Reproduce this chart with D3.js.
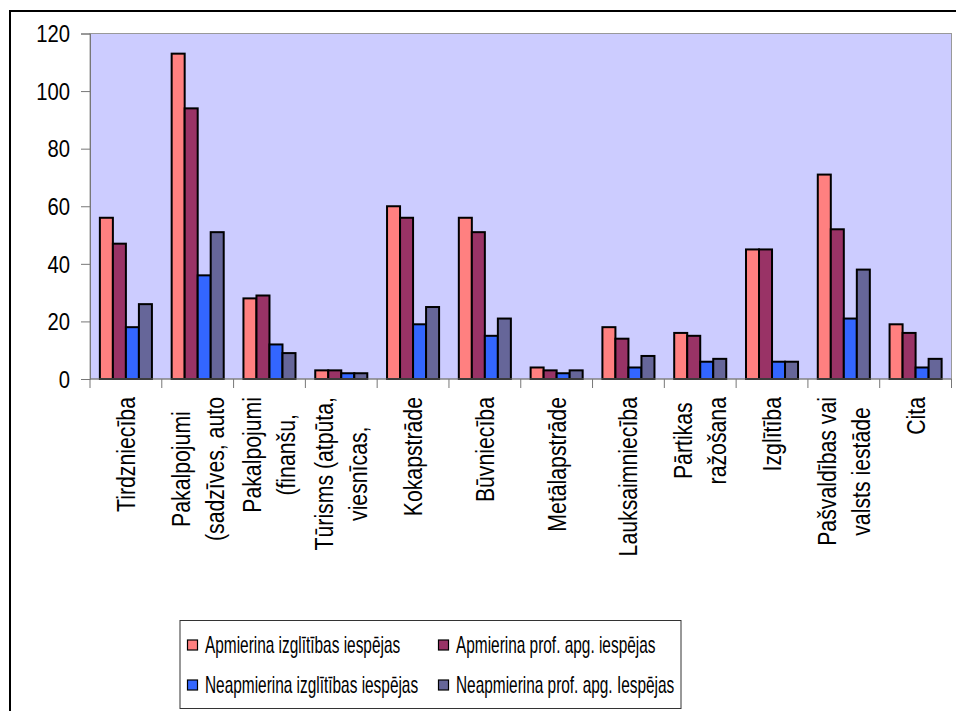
<!DOCTYPE html>
<meta charset="utf-8">
<style>
  body { margin: 0; background: #fff; }
  text { font-family: "Liberation Sans", Arial, sans-serif; fill: #000; }
  .bar { stroke: #000; stroke-width: 2px; }
</style>
<body>
<script src="https://d3js.org/d3.v7.min.js"></script>
<div id="chart"></div>
<script>

// categories, each split into the lines shown under the axis
var categories = [
  ["Tirdzniecība"],
  ["Pakalpojumi", "(sadzīves, auto"],
  ["Pakalpojumi", "(finanšu,"],
  ["Tūrisms (atpūta,", "viesnīcas,"],
  ["Kokapstrāde"],
  ["Būvniecība"],
  ["Metālapstrāde"],
  ["Lauksaimniecība"],
  ["Pārtikas", "ražošana"],
  ["Izglītība"],
  ["Pašvaldības vai", "valsts iestāde"],
  ["Cita"]
];

var seriesNames = [
  "Apmierina izglītības iespējas",
  "Apmierina prof. apg. iespējas",
  "Neapmierina izglītības iespējas",
  "Neapmierina prof. apg. Iespējas"
];
var seriesColors = ["#ff8080", "#993366", "#3366ff", "#666699"];

var apmIzgl   = [56, 113, 28, 3, 60, 56, 4, 18, 16, 45, 71, 19];
var apmProf   = [47, 94, 29, 3, 56, 51, 3, 14, 15, 45, 52, 16];
var neapIzgl  = [18, 36, 12, 2, 19, 15, 2, 4, 6, 6, 21, 4];
var neapProf  = [26, 51, 9, 2, 25, 21, 3, 8, 7, 6, 38, 7];

var yTicks = [0, 20, 40, 60, 80, 100, 120];

var series = [apmIzgl, apmProf, neapIzgl, neapProf];

var W = 956, H = 711;
var plot = {left: 90, top: 33.5, right: 951.5, bottom: 379};

// the original uses a narrow face; squeeze the text horizontally
var narrowAxis = 0.88, narrowLabel = 0.85, narrowLegend = 0.67;

var svg = d3.select("#chart").append("svg")
    .attr("width", W)
    .attr("height", H);

// outer frame (runs off the right and bottom edge)
svg.append("rect")
    .attr("x", 10).attr("y", 11)
    .attr("width", 960).attr("height", 720)
    .attr("fill", "#fff")
    .attr("stroke", "#000")
    .attr("stroke-width", 2);

var x0 = d3.scaleBand()
    .domain(d3.range(categories.length))
    .range([plot.left, plot.right])
    .paddingInner(0.275)
    .paddingOuter(0.1375);

var x1 = d3.scaleBand()
    .domain(d3.range(series.length))
    .range([0, x0.bandwidth()]);

var y = d3.scaleLinear()
    .domain([0, 120])
    .range([plot.bottom, plot.top]);

// plot background
svg.append("rect")
    .attr("x", plot.left).attr("y", plot.top)
    .attr("width", plot.right - plot.left)
    .attr("height", plot.bottom - plot.top)
    .attr("fill", "#ccccff")
    .attr("stroke", "#999")
    .attr("stroke-width", 1);

// bars
var groups = svg.append("g").selectAll("g")
    .data(categories)
    .enter().append("g")
    .attr("transform", function(d, i) { return "translate(" + x0(i) + ",0)"; });

groups.selectAll("rect")
    .data(function(d, i) { return series.map(function(s, k) { return {k: k, v: s[i]}; }); })
    .enter().append("rect")
    .attr("class", "bar")
    .attr("x", function(d) { return x1(d.k); })
    .attr("width", x1.bandwidth())
    .attr("y", function(d) { return y(d.v); })
    .attr("height", function(d) { return y(0) - y(d.v); })
    .attr("fill", function(d) { return seriesColors[d.k]; });

// y axis
var gy = svg.append("g")
    .attr("transform", "translate(" + plot.left + ",0)")
    .call(d3.axisLeft(y).tickValues(yTicks).tickSize(9).tickPadding(11));
gy.select(".domain").attr("stroke", "#777");
gy.selectAll(".tick line").attr("stroke", "#777");
gy.selectAll(".tick text")
    .attr("font-size", 23)
    .attr("dy", "0.36em")
    .attr("x", -20 / narrowAxis)
    .attr("transform", "scale(" + narrowAxis + ",1)")
    .attr("font-family", null);

// x axis: ticks at category boundaries
var step = x0.step();
var boundaries = d3.range(categories.length + 1).map(function(i) { return plot.left + i * step; });
svg.append("line")
    .attr("x1", plot.left).attr("x2", plot.right)
    .attr("y1", plot.bottom).attr("y2", plot.bottom)
    .attr("stroke", "#777");
svg.append("g").selectAll("line")
    .data(boundaries)
    .enter().append("line")
    .attr("x1", function(d) { return d; })
    .attr("x2", function(d) { return d; })
    .attr("y1", plot.bottom)
    .attr("y2", plot.bottom + 9)
    .attr("stroke", "#777");

// category labels, rotated, top aligned, lines centered
var lineGap = 34;
var labelTop = 397;
var labels = svg.append("g").selectAll("g")
    .data(categories)
    .enter().append("g")
    .attr("transform", function(d, i) {
      return "translate(" + (x0(i) + x0.bandwidth() / 2) + ",0) rotate(-90)";
    });

labels.each(function(lines) {
  var g = d3.select(this);
  var texts = lines.map(function(line) {
    return g.append("text")
      .attr("font-size", 25)
      .attr("text-anchor", "middle")
      .text(line);
  });
  var maxLen = narrowLabel * d3.max(texts, function(t) { return t.node().getComputedTextLength(); });
  texts.forEach(function(t, j) {
    var off = 9 + (j - (lines.length - 1) / 2) * lineGap;
    t.attr("transform", "translate(" + (-(labelTop + maxLen / 2)) + "," + off + ") scale(" + narrowLabel + ",1)");
  });
});

// legend
var legend = svg.append("g");
legend.append("rect")
    .attr("x", 180).attr("y", 620.5)
    .attr("width", 501).attr("height", 88)
    .attr("fill", "#fff")
    .attr("stroke", "#333")
    .attr("stroke-width", 1);

var legendItems = legend.selectAll("g")
    .data(seriesNames)
    .enter().append("g")
    .attr("transform", function(d, i) {
      return "translate(" + (i % 2 === 0 ? 187 : 438) + "," + (i < 2 ? 645 : 685) + ")";
    });

legendItems.append("rect")
    .attr("x", 0.5).attr("y", -5)
    .attr("width", 10).attr("height", 10)
    .attr("fill", function(d, i) { return seriesColors[i]; })
    .attr("stroke", "#000")
    .attr("stroke-width", 1.2);

legendItems.append("text")
    .attr("dy", "0.36em")
    .attr("font-size", 23)
    .attr("transform", "translate(18,0) scale(" + narrowLegend + ",1)")
    .text(function(d) { return d; });

</script>
</body>
